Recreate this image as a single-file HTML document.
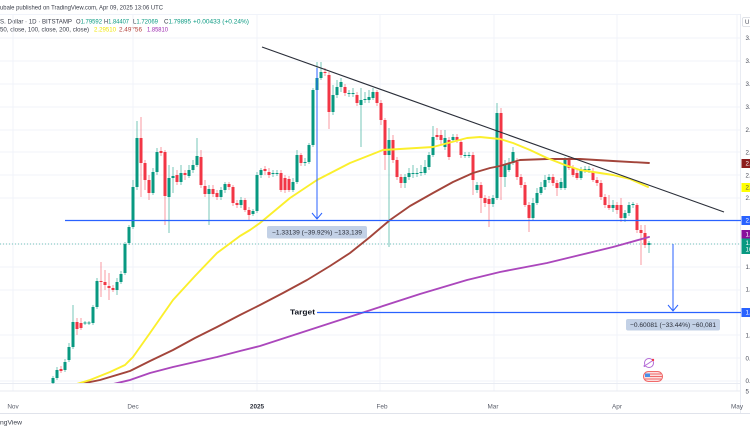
<!DOCTYPE html>
<html><head><meta charset="utf-8"><style>
html,body{margin:0;padding:0;background:#fff;width:750px;height:430px;overflow:hidden}
svg{display:block}
text{font-family:"Liberation Sans",sans-serif}
</style></head><body>
<svg width="750" height="430" viewBox="0 0 750 430" xmlns="http://www.w3.org/2000/svg">
<rect width="750" height="430" fill="#fff"/>
<!-- header -->
<text x="0" y="9.3" font-size="6.6" fill="#3a3e4a" textLength="163" lengthAdjust="spacingAndGlyphs">ubale published on TradingView.com, Apr 09, 2025 13:06 UTC</text>
<text x="0" y="23.3" font-size="6.6" fill="#3a3e4a" textLength="72" lengthAdjust="spacingAndGlyphs">S. Dollar · 1D · BITSTAMP</text>
<text x="76" y="23.3" font-size="6.6" fill="#3a3e4a" textLength="26" lengthAdjust="spacingAndGlyphs">O<tspan fill="#089981">1.79592</tspan></text>
<text x="104" y="23.3" font-size="6.6" fill="#3a3e4a" textLength="25" lengthAdjust="spacingAndGlyphs">H<tspan fill="#089981">1.84407</tspan></text>
<text x="133" y="23.3" font-size="6.6" fill="#3a3e4a" textLength="25" lengthAdjust="spacingAndGlyphs">L<tspan fill="#089981">1.72069</tspan></text>
<text x="164" y="23.3" font-size="6.6" fill="#3a3e4a" textLength="27" lengthAdjust="spacingAndGlyphs">C<tspan fill="#089981">1.79895</tspan></text>
<text x="193" y="23.3" font-size="6.6" fill="#089981" textLength="56" lengthAdjust="spacingAndGlyphs">+0.00433 (+0.24%)</text>
<text x="0" y="31.5" font-size="6.6" fill="#3a3e4a" textLength="89" lengthAdjust="spacingAndGlyphs">50, close, 100, close, 200, close)</text>
<text x="94" y="31.5" font-size="6.6" fill="#f2e600" textLength="22" lengthAdjust="spacingAndGlyphs">2.29510</text>
<text x="119" y="31.5" font-size="6.6" fill="#b2403a" textLength="23" lengthAdjust="spacingAndGlyphs">2.49756</text>
<text x="147" y="31.5" font-size="6.6" fill="#9c27b0" textLength="21" lengthAdjust="spacingAndGlyphs">1.85810</text>

<!-- grid -->
<g stroke="#f0f3fa" stroke-width="1">
<path d="M0 14.5H750"/>
<path d="M0 38H741M0 61H741M0 84H741M0 107H741M0 130H741M0 152H741M0 175H741M0 198H741M0 244H741M0 267H741M0 290H741M0 335H741M0 358H741M0 381H741"/>
<path d="M13 14V391M133 14V391M257 14V391M380 14V391M494 14V391M617 14V391M737 14V391"/>
</g>
<path d="M0 383.5H750M0 391H750" stroke="#e8ebf2" stroke-width="1"/>
<path d="M0 413.5H750" stroke="#e0e3eb" stroke-width="1"/>
<path d="M740.5 14V413" stroke="#e8ebf2" stroke-width="1"/>

<!-- current price dotted -->
<path d="M0 244H741" stroke="#089981" stroke-opacity="0.55" stroke-width="1" stroke-dasharray="1 2"/>

<!-- candles -->
<g>
<path stroke="#089981" stroke-opacity="0.55" stroke-width="1" fill="none" d="M53 376V384M57 367V380M65 359V372M69 343V362M73 305V349M85 321V325M89 321V325M93 305V325M97 278V309M117 278V295M121 271V284M125 242V275M129 225V245M133 180V229M137 121V190M153 168V195M157 148V175M169 165V233M173 167V193M181 165V185M189 165V178M193 160V173M197 138V167M209 185V225M221 187V200M225 182V193M241 197V208M253 209V216M257 172V213M261 168V178M273 170V177M277 170V176M293 178V192M297 150V184M305 158V166M309 143V164M313 88V147M317 62V92M321 62V80M333 85V115M337 80V98M341 78V92M349 90V97M353 88V97M361 88V147M365 92V103M369 90V103M373 88V100M389 128V247M405 174V188M409 168V180M413 165V178M417 168V177M421 165V176M425 160V175M429 152V170M433 126V157M445 130V150M453 134V142M465 152V158M469 152V158M477 182V193M493 195V207M497 103V200M505 160V187M509 158V172M513 147V165M533 198V220M537 188V205M541 182V195M545 175V190M549 174V183M561 178V190M565 157V190M581 167V180M585 166V173M589 166V173M613 200V212M625 210V222M629 202V216M633 202V208M649 241V253"/>
<path stroke="#f23645" stroke-opacity="0.5" stroke-width="1" fill="none" d="M61 366V373M77 318V335M81 318V330M101 262V297M105 270V290M109 273V300M113 285V292M141 117V197M145 160V190M149 175V200M161 147V156M165 150V225M177 170V185M185 170V180M201 150V188M205 180V197M213 185V197M217 190V200M229 182V190M233 185V206M237 200V208M245 198V212M249 207V220M265 166V175M269 168V178M281 170V192M285 175V193M289 176V192M301 153V166M325 68V76M329 72V129M345 84V96M357 92V106M377 90V106M381 100V125M385 118V170M393 135V163M397 157V180M401 174V188M437 128V140M441 130V145M449 137V160M457 134V143M461 139V158M473 152V195M481 182V213M485 195V207M489 196V227M501 108V200M517 158V180M521 174V188M525 182V207M529 202V232M553 174V186M557 180V196M569 156V170M573 165V177M577 170V180M593 168V182M597 177V186M601 180V200M605 194V208M609 195V210M617 202V214M621 198V222M637 203V233M641 225V265M645 225V248"/>
<path fill="#089981" d="M51.5 378h3v5h-3zM55.5 370h3v8h-3zM63.5 362h3v8h-3zM67.5 347h3v13h-3zM71.5 322h3v25h-3zM83.5 322.5h3v1h-3zM87.5 322.5h3v1h-3zM91.5 307h3v16h-3zM95.5 281h3v26h-3zM115.5 282h3v8h-3zM119.5 274h3v8h-3zM123.5 244h3v29h-3zM127.5 227h3v16h-3zM131.5 187h3v40h-3zM135.5 138h3v49h-3zM151.5 172h3v21h-3zM155.5 152h3v20h-3zM167.5 178h3v19h-3zM171.5 176h3v2h-3zM179.5 173h3v9h-3zM187.5 170h3v6h-3zM191.5 165h3v5h-3zM195.5 156h3v9h-3zM207.5 189h3v5h-3zM219.5 190h3v7h-3zM223.5 184h3v6h-3zM239.5 200h3v5h-3zM251.5 211h3v3h-3zM255.5 175h3v36h-3zM259.5 170h3v5h-3zM271.5 173h3v1h-3zM275.5 173h3v1h-3zM291.5 182h3v8h-3zM295.5 155h3v27h-3zM303.5 162h3v1h-3zM307.5 145h3v17h-3zM311.5 90h3v55h-3zM315.5 78h3v12h-3zM319.5 72h3v6h-3zM331.5 95h3v17h-3zM335.5 87h3v8h-3zM339.5 82h3v5h-3zM347.5 93h3v1h-3zM351.5 93h3v1h-3zM359.5 100h3v5h-3zM363.5 99h3v1h-3zM367.5 97h3v3h-3zM371.5 92h3v6h-3zM387.5 140h3v15h-3zM403.5 177h3v6h-3zM407.5 173h3v4h-3zM411.5 173h3v1h-3zM415.5 173h3v1h-3zM419.5 172h3v1h-3zM423.5 167h3v6h-3zM427.5 155h3v12h-3zM431.5 137h3v18h-3zM443.5 138h3v9h-3zM451.5 137h3v3h-3zM463.5 155h3v1h-3zM467.5 155h3v1h-3zM475.5 185h3v5h-3zM491.5 198h3v6h-3zM495.5 113h3v85h-3zM503.5 165h3v12h-3zM507.5 163h3v7h-3zM511.5 152h3v11h-3zM531.5 203h3v15h-3zM535.5 193h3v10h-3zM539.5 187h3v6h-3zM543.5 180h3v7h-3zM547.5 177h3v3h-3zM559.5 182h3v6h-3zM563.5 160h3v28h-3zM579.5 170h3v8h-3zM583.5 169h3v1h-3zM587.5 169h3v1h-3zM611.5 205h3v3h-3zM623.5 213h3v5h-3zM627.5 205h3v8h-3zM631.5 204h3v1h-3zM647.5 243h3v2h-3z"/>
<path fill="#f23645" d="M59.5 369h3v2h-3zM75.5 322h3v7h-3zM79.5 323h3v5h-3zM99.5 281h3v1h-3zM103.5 282h3v3h-3zM107.5 286h3v2h-3zM111.5 288h3v2h-3zM139.5 138h3v25h-3zM143.5 163h3v17h-3zM147.5 180h3v13h-3zM159.5 151h3v2h-3zM163.5 152h3v44h-3zM175.5 175h3v7h-3zM183.5 173h3v2h-3zM199.5 157h3v28h-3zM203.5 186h3v8h-3zM211.5 189h3v5h-3zM215.5 193h3v4h-3zM227.5 184h3v3h-3zM231.5 187h3v16h-3zM235.5 203h3v2h-3zM243.5 200h3v10h-3zM247.5 210h3v5h-3zM263.5 169h3v2h-3zM267.5 172h3v3h-3zM279.5 173h3v17h-3zM283.5 178h3v12h-3zM287.5 179h3v11h-3zM299.5 155h3v8h-3zM323.5 72h3v1h-3zM327.5 75h3v37h-3zM343.5 87h3v6h-3zM355.5 95h3v8h-3zM375.5 92h3v11h-3zM379.5 103h3v17h-3zM383.5 120h3v35h-3zM391.5 140h3v20h-3zM395.5 160h3v17h-3zM399.5 177h3v6h-3zM435.5 135h3v2h-3zM439.5 135h3v5h-3zM447.5 140h3v17h-3zM455.5 137h3v3h-3zM459.5 142h3v13h-3zM471.5 155h3v25h-3zM479.5 185h3v13h-3zM483.5 198h3v5h-3zM487.5 199h3v5h-3zM499.5 113h3v64h-3zM515.5 162h3v15h-3zM519.5 177h3v8h-3zM523.5 185h3v20h-3zM527.5 205h3v13h-3zM551.5 177h3v6h-3zM555.5 183h3v5h-3zM567.5 158h3v10h-3zM571.5 168h3v7h-3zM575.5 173h3v5h-3zM591.5 172h3v8h-3zM595.5 180h3v3h-3zM599.5 183h3v14h-3zM603.5 197h3v8h-3zM607.5 205h3v3h-3zM615.5 205h3v5h-3zM619.5 205h3v13h-3zM635.5 205h3v25h-3zM639.5 230h3v3h-3zM643.5 233h3v12h-3z"/>
</g>

<!-- moving averages -->
<defs><clipPath id="cp"><rect x="0" y="14" width="741" height="369"/></clipPath></defs>
<g clip-path="url(#cp)" fill="none" stroke-linejoin="round" stroke-linecap="round" stroke-width="1.9">
<polyline stroke="#ab47bc" points="105,386 130,380 150,373 173,367 195,362 217,357 240,351 260,346 300,333 340,320 380,307 420,294 467,280 500,272 547,263 580,255 613,247 649,237"/>
<polyline stroke="#a3453b" points="70,386 100,380 130,371 150,361 173,350 195,338 217,327 240,315 260,305 283,293 307,280 330,266 350,253 370,237 390,220 410,206 433,193 453,182 473,173 490,168 500,166 520,160 547,159 580,159 613,161 649,163"/>
<polyline stroke="#fbef2c" points="70,386 90,380 110,372 125,365 133,357 150,333 173,300 195,276 217,253 240,236 250,230 260,223 290,198 317,180 350,163 383,150 400,149 433,147 467,138 480,137 500,139 513,143 530,150 547,158 565,165 580,170 600,173 613,175 630,179 648,187"/>
</g>

<!-- drawings -->
<path d="M262 47L724 212" stroke="#2a2e39" stroke-width="1.1" fill="none"/>
<path d="M65 220.5H741" stroke="#2962ff" stroke-width="1.3" fill="none"/>
<path d="M317 312.5H741" stroke="#2962ff" stroke-width="1.3" fill="none"/>
<path d="M317 68V219M312 213L317 219L322 213" stroke="#2962ff" stroke-width="1" fill="none"/>
<path d="M673 244V311M668 305L673 311L678 305" stroke="#2962ff" stroke-width="1" fill="none"/>
<text x="315" y="314.6" font-size="7.2" font-weight="bold" fill="#131722" text-anchor="end" textLength="25" lengthAdjust="spacingAndGlyphs">Target</text>

<rect x="267" y="226" width="100" height="12.5" rx="2" fill="#c3d1e6"/>
<text x="317" y="234.6" font-size="6.4" fill="#2a2e39" text-anchor="middle" textLength="90" lengthAdjust="spacingAndGlyphs">−1.33139 (−39.92%) −133,139</text>
<rect x="626" y="319" width="94" height="11.5" rx="2" fill="#c3d1e6"/>
<text x="673" y="327" font-size="6.4" fill="#2a2e39" text-anchor="middle" textLength="86" lengthAdjust="spacingAndGlyphs">−0.60081 (−33.44%) −60,081</text>

<!-- event icons -->
<g>
<circle cx="649" cy="363" r="4.5" fill="#fff" stroke="#b36ad6" stroke-width="1"/>
<path d="M646 365L652 361" stroke="#b36ad6" stroke-width="1"/>
<circle cx="653" cy="360" r="1.2" fill="#f23645"/>
<circle cx="644.5" cy="366" r="1" fill="#b36ad6"/>
<rect x="643.5" y="371.5" width="19" height="10" rx="5" fill="#fbdede" stroke="#f06a6a" stroke-width="1"/>
<path d="M648 374H661M645 376.5H662M645 379H661" stroke="#f06a6a" stroke-width="1"/>
<path d="M645 373.5h5v3.5h-5z" fill="#4a8fe7"/>
</g>

<!-- right price axis -->
<rect x="741" y="14" width="9" height="399" fill="#fff"/>
<g font-size="6.2" fill="#4a4e5a">
<text x="745.5" y="40.2">3.6000</text>
<text x="745.5" y="63.2">3.4000</text>
<text x="745.5" y="86.2">3.2000</text>
<text x="745.5" y="109.2">3.0000</text>
<text x="745.5" y="131.8">2.8000</text>
<text x="745.5" y="154.5">2.6000</text>
<text x="745.5" y="177.5">2.4000</text>
<text x="745.5" y="200">2.2000</text>
<text x="745.5" y="269.2">1.6000</text>
<text x="745.5" y="291.5">1.4000</text>
<text x="745.5" y="337.5">1.0000</text>
<text x="745.5" y="360.5">0.8000</text>
<text x="745.5" y="383">0.6000</text>
<text x="745.5" y="393.5">5</text>
</g>
<rect x="742.5" y="17.5" width="9" height="9" rx="1.5" fill="#fff" stroke="#d6d9e0" stroke-width="0.8"/>
<text x="745" y="24.2" font-size="6" fill="#4a4e5a">U</text>
<rect x="741.5" y="159" width="9" height="9" fill="#8c1c1c"/>
<text x="745.5" y="165.7" font-size="6.2" fill="#fff">2.49756</text>
<rect x="741.5" y="183" width="9" height="9" fill="#ffff00"/>
<text x="745.5" y="189.7" font-size="6.2" fill="#555">2.29510</text>
<rect x="741.5" y="216" width="9" height="9" fill="#2962ff"/>
<text x="745.5" y="222.7" font-size="6.2" fill="#fff">2.0000</text>
<rect x="741.5" y="230" width="9" height="8.5" fill="#880e9c"/>
<text x="745.5" y="236.4" font-size="6.2" fill="#fff">1.85810</text>
<rect x="741.5" y="238.5" width="9" height="15.5" fill="#089981"/>
<text x="745.5" y="244.8" font-size="6.2" fill="#fff">1.79895</text>
<text x="745.5" y="251.6" font-size="6.2" fill="#fff">10:53:41</text>
<rect x="741.5" y="308" width="9" height="9" fill="#2962ff"/>
<text x="745.5" y="314.7" font-size="6.2" fill="#fff">1.2000</text>

<!-- time axis -->
<g font-size="6.4" fill="#5a5e6a" text-anchor="middle">
<text x="13" y="408.6">Nov</text>
<text x="133" y="408.6">Dec</text>
<text x="257" y="408.6" font-weight="bold" fill="#2a2e39">2025</text>
<text x="382" y="408.6">Feb</text>
<text x="493" y="408.6">Mar</text>
<text x="617" y="408.6">Apr</text>
<text x="737" y="408.6">May</text>
</g>
<text x="0" y="424.6" font-size="6.4" fill="#3a3e4a" textLength="22" lengthAdjust="spacingAndGlyphs">ngView</text>
</svg>
</body></html>
